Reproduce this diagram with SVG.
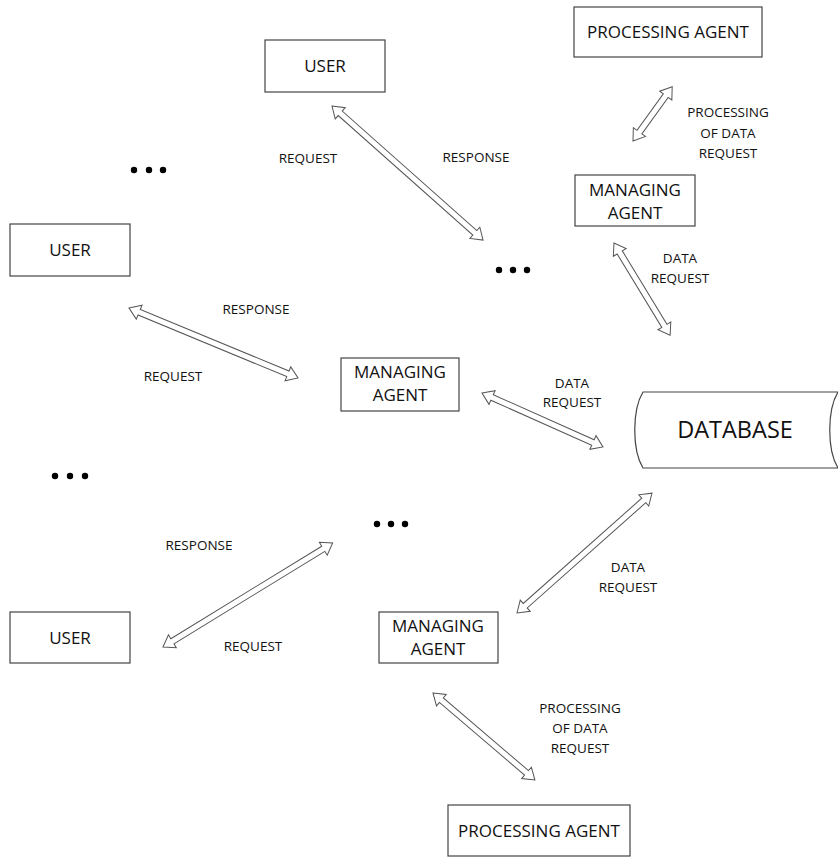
<svg xmlns="http://www.w3.org/2000/svg" width="838" height="858" viewBox="0 0 838 858">
<style>
.box{fill:#fff;stroke:#444;stroke-width:1.2}
.arr{fill:#fff;stroke:#555;stroke-width:1}
.nt{font-family:"Open Sans","Liberation Sans",sans-serif;font-size:17px;fill:#111;text-anchor:middle}
.lb{font-family:"Open Sans","Liberation Sans",sans-serif;font-size:13.5px;fill:#111;text-anchor:middle}
.db{font-family:"Open Sans","Liberation Sans",sans-serif;font-size:23.5px;fill:#111;text-anchor:middle}
.dot{fill:#000}
</style>
<rect width="838" height="858" fill="#fff"/>
<g id="connectors">
<polygon class="arr" transform="translate(332,106) rotate(41.6)" points="0,0 11,-7.5 11,-3 191,-3 191,-7.5 202,0 191,7.5 191,3 11,3 11,7.5"/>
<polygon class="arr" transform="translate(633,141) rotate(-54.2)" points="0,0 11,-7.5 11,-3 56,-3 56,-7.5 67,0 56,7.5 56,3 11,3 11,7.5"/>
<polygon class="arr" transform="translate(614,243) rotate(58.7)" points="0,0 11,-7.5 11,-3 97,-3 97,-7.5 108,0 97,7.5 97,3 11,3 11,7.5"/>
<polygon class="arr" transform="translate(129,308) rotate(22.5)" points="0,0 11,-7.5 11,-3 172,-3 172,-7.5 183,0 172,7.5 172,3 11,3 11,7.5"/>
<polygon class="arr" transform="translate(482,393) rotate(24.05)" points="0,0 11,-7.5 11,-3 121.5,-3 121.5,-7.5 132.5,0 121.5,7.5 121.5,3 11,3 11,7.5"/>
<polygon class="arr" transform="translate(163,647) rotate(-31.5)" points="0,0 11,-7.5 11,-3 188,-3 188,-7.5 199,0 188,7.5 188,3 11,3 11,7.5"/>
<polygon class="arr" transform="translate(517,613) rotate(-41.6)" points="0,0 11,-7.5 11,-3 169.5,-3 169.5,-7.5 180.5,0 169.5,7.5 169.5,3 11,3 11,7.5"/>
<polygon class="arr" transform="translate(433,693) rotate(40.5)" points="0,0 11,-7.5 11,-3 123,-3 123,-7.5 134,0 123,7.5 123,3 11,3 11,7.5"/>
</g>
<g id="labels">
<text class="lb" x="308" y="163">REQUEST</text>
<text class="lb" x="476" y="162">RESPONSE</text>
<text class="lb" x="728" y="117">PROCESSING</text>
<text class="lb" x="728" y="138">OF DATA</text>
<text class="lb" x="728" y="158">REQUEST</text>
<text class="lb" x="680" y="263">DATA</text>
<text class="lb" x="680" y="283">REQUEST</text>
<text class="lb" x="256" y="314">RESPONSE</text>
<text class="lb" x="173" y="381">REQUEST</text>
<text class="lb" x="572" y="388">DATA</text>
<text class="lb" x="572" y="407">REQUEST</text>
<text class="lb" x="199" y="550">RESPONSE</text>
<text class="lb" x="253" y="651">REQUEST</text>
<text class="lb" x="628" y="572">DATA</text>
<text class="lb" x="628" y="592">REQUEST</text>
<text class="lb" x="580" y="713">PROCESSING</text>
<text class="lb" x="580" y="733">OF DATA</text>
<text class="lb" x="580" y="753">REQUEST</text>
</g>
<g id="dots">
<circle class="dot" cx="134" cy="170" r="3.2"/><circle class="dot" cx="149" cy="170" r="3.2"/><circle class="dot" cx="163" cy="170" r="3.2"/>
<circle class="dot" cx="499" cy="270" r="3.2"/><circle class="dot" cx="513" cy="270" r="3.2"/><circle class="dot" cx="527" cy="270" r="3.2"/>
<circle class="dot" cx="55" cy="476" r="3.2"/><circle class="dot" cx="70" cy="476" r="3.2"/><circle class="dot" cx="85" cy="476" r="3.2"/>
<circle class="dot" cx="377" cy="524" r="3.2"/><circle class="dot" cx="391" cy="524" r="3.2"/><circle class="dot" cx="405" cy="524" r="3.2"/>
</g>
<g id="user-top">
<rect class="box" x="265" y="40" width="120" height="52"/>
<text class="nt" x="325" y="72">USER</text>
</g>
<g id="processing-top">
<rect class="box" x="574" y="7" width="188" height="50"/>
<text class="nt" x="668" y="38">PROCESSING AGENT</text>
</g>
<g id="managing-top">
<rect class="box" x="575" y="175" width="120" height="51"/>
<text class="nt" x="635" y="196">MANAGING</text>
<text class="nt" x="635" y="219">AGENT</text>
</g>
<g id="user-left">
<rect class="box" x="10" y="224" width="120" height="52"/>
<text class="nt" x="70" y="256">USER</text>
</g>
<g id="managing-middle">
<rect class="box" x="341" y="358" width="118" height="53"/>
<text class="nt" x="400" y="378">MANAGING</text>
<text class="nt" x="400" y="401">AGENT</text>
</g>
<g id="database">
<path class="box" d="M643,392 L838,392 C827,410 827,450 838,468 L643,468 C632,450 632,410 643,392 Z"/>
<text class="db" x="735" y="438">DATABASE</text>
</g>
<g id="user-bottom">
<rect class="box" x="10" y="612" width="120" height="51"/>
<text class="nt" x="70" y="644">USER</text>
</g>
<g id="managing-bottom">
<rect class="box" x="379" y="612" width="119" height="51"/>
<text class="nt" x="438" y="632">MANAGING</text>
<text class="nt" x="438" y="655">AGENT</text>
</g>
<g id="processing-bottom">
<rect class="box" x="448" y="805" width="182" height="51"/>
<text class="nt" x="539" y="837">PROCESSING AGENT</text>
</g>
</svg>
